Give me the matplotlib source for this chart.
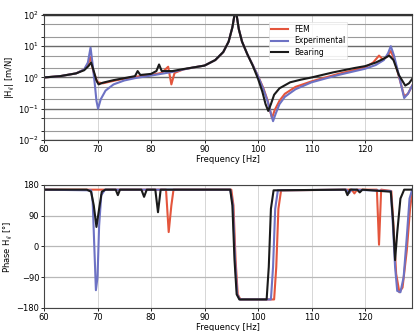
import matplotlib
matplotlib.use("Agg")
import matplotlib.pyplot as plt
from matplotlib.ticker import LogLocator, NullFormatter, FixedLocator

# ---- magnitude data ------------------------------------------------------
freq_mag_black = [60, 63, 66, 67.5, 68.3, 68.8, 69.3, 69.8, 70.2, 71, 73, 75, 77,
                  77.5, 78, 80, 81, 81.5, 82, 84, 86, 88, 90, 92, 93.5, 94.5, 95.2,
                  95.8, 96.4, 97, 98, 99, 100, 100.8, 101.4, 101.9, 102.4, 103, 104,
                  106, 108, 110, 114, 118, 120, 122, 123.5, 124.5, 125.3, 126.3,
                  127.5, 128.2, 128.8]
mag_black = [1.0, 1.1, 1.35, 1.7, 2.3, 3.0, 1.6, 0.8, 0.6, 0.68, 0.82, 0.95, 1.1,
             1.6, 1.2, 1.3, 1.6, 2.6, 1.6, 1.6, 1.85, 2.1, 2.4, 3.6, 6.5, 14, 40,
             160, 35, 14, 5.5, 2.4, 0.9, 0.35, 0.14, 0.085, 0.14, 0.28, 0.45,
             0.7, 0.85, 1.0, 1.45, 2.0, 2.3, 3.0, 4.0, 5.0, 3.6, 1.2, 0.55, 0.65,
             0.9]

freq_mag_blue = [60, 63, 66, 67.5, 68.2, 68.7, 69.1, 69.5, 69.8, 70.1, 70.6, 71.5,
                 73, 75, 77, 80, 84, 86, 88, 90, 92, 93.5, 94.5, 95.2, 95.8, 96.4,
                 97, 98, 99, 100, 101, 101.8, 102.4, 102.8, 103.3, 104, 105, 107,
                 110, 115, 120, 122, 123.5, 124.3, 124.8, 125.4, 126.3, 127.3, 128,
                 128.8]
mag_blue = [1.0, 1.1, 1.35, 1.8, 3.0, 9.0, 2.5, 0.6, 0.18, 0.1, 0.2, 0.38,
            0.6, 0.8, 0.95, 1.15, 1.5, 1.8, 2.1, 2.4, 3.6, 6.5, 14, 40, 160, 35,
            14, 5.5, 2.5, 1.1, 0.42, 0.17, 0.07, 0.04, 0.07, 0.14, 0.24, 0.42,
            0.7, 1.2, 1.9, 2.5, 3.6, 6.0, 10.0, 5.0, 1.2, 0.22, 0.3, 0.55]

freq_mag_red = [60, 63, 66, 67.5, 68.2, 68.7, 69.2, 70, 71, 73, 75, 77, 80, 82,
                83.2, 83.8, 84.4, 86, 88, 90, 92, 93.5, 94.5, 95.2, 95.8, 96.4, 97,
                98, 99, 100, 101, 101.8, 102.3, 102.6, 103.1, 104, 105, 107, 110,
                115, 120, 121.5, 122.6, 123.3, 124, 124.8, 125.4, 126.3, 127.3,
                128, 128.8]
mag_red = [1.0, 1.1, 1.35, 1.8, 2.6, 4.5, 1.6, 0.7, 0.65, 0.78, 0.92, 1.05,
           1.2, 1.4, 2.2, 0.6, 1.4, 1.8, 2.1, 2.4, 3.6, 6.5, 14, 40, 160, 35, 14,
           5.5, 2.5, 1.1, 0.45, 0.18, 0.08, 0.05, 0.09, 0.18, 0.3, 0.5, 0.75,
           1.3, 2.1, 3.0, 5.0, 3.8, 4.5, 7.0, 4.0, 1.1, 0.25, 0.3, 0.55]

# ---- phase data ----------------------------------------------------------
freq_ph_black = [60, 68, 68.8, 69.3, 69.8, 70.3, 70.8, 71.5, 73.4, 73.8, 74.2,
                 78.2, 78.7, 79.2, 80.8, 81.3, 81.8, 94.8, 95.2, 95.6, 96.0, 96.5,
                 101.6, 102.0, 102.4, 102.9, 116.3, 116.7, 117.2, 118.5, 119,
                 119.5, 124.8, 125.2, 125.6, 126.0, 126.6, 127.3, 128.8]
ph_black = [166, 166, 160, 120, 57, 110, 160, 166, 166, 150, 166,
            166, 145, 166, 166, 100, 166, 166, 120, -40, -140, -155,
            -155, -60, 110, 164, 166, 150, 166, 166, 158, 166, 160, 80,
            -40, 40, 140, 166, 166]

freq_ph_blue = [60, 68.8, 69.1, 69.4, 69.7, 70.0, 70.3, 70.7, 71.4, 94.8, 95.3,
                95.7, 96.1, 96.6, 102.4, 102.8, 103.2, 103.7, 116.5, 117, 117.5,
                124.8, 125.2, 125.6, 126.0, 126.6, 127.2, 127.8, 128.3, 128.8]
ph_blue = [166, 164, 130, 0, -128, -90, 60, 150, 166, 166, 120, -40, -140,
           -155, -155, -60, 110, 164, 166, 156, 166, 162, 60, -60, -130, -134,
           -90, 30, 140, 166]

freq_ph_red = [60, 82.8, 83.3, 83.8, 84.2, 95.0, 95.4, 95.8, 96.2, 96.7, 103.0,
               103.4, 103.8, 104.3, 117.5, 118, 118.5, 122.2, 122.6, 123.0,
               124.9, 125.3, 125.8, 126.4, 127.0, 127.8, 128.4, 128.8]
ph_red = [166, 166, 42, 120, 166, 166, 120, -40, -140, -155, -155, -60, 110,
          164, 166, 155, 166, 166, 5, 166, 162, 60, -80, -134, -120, -10, 110,
          160]

series_labels = ["FEM", "Experimental", "Bearing"]
mag_ticks = [1e-2, 1e-1, 1e0, 1e1, 1e2]
phase_ticks = [-180, -90, 0, 90, 180]
freq_ticks = [60, 70, 80, 90, 100, 110, 120]

RED = "#e4553c"
BLUE = "#6d72c4"
BLACK = "#1a1a1a"

plt.rcParams["font.family"] = "DejaVu Sans"
fig = plt.figure(figsize=(4.17, 3.31), dpi=100)

ax1 = fig.add_axes([0.1055, 0.577, 0.883, 0.378])
ax2 = fig.add_axes([0.1055, 0.0695, 0.883, 0.372])

lw = 1.5
ax1.semilogy(freq_mag_red, mag_red, color=RED, lw=lw, label=series_labels[0])
ax1.semilogy(freq_mag_blue, mag_blue, color=BLUE, lw=lw, label=series_labels[1])
ax1.semilogy(freq_mag_black, mag_black, color=BLACK, lw=lw, label=series_labels[2])

ax2.plot(freq_ph_red, ph_red, color=RED, lw=lw)
ax2.plot(freq_ph_blue, ph_blue, color=BLUE, lw=lw)
ax2.plot(freq_ph_black, ph_black, color=BLACK, lw=lw)

for ax in (ax1, ax2):
    ax.set_xlim(60, 128.8)
    ax.set_xticks(freq_ticks)
    ax.tick_params(labelsize=6, length=2, width=0.6, pad=1.5)
    ax.set_xlabel("Frequency [Hz]", fontsize=6, labelpad=1)
    ax.xaxis.grid(True, color="#d0d0d0", lw=0.6)
    for s in ax.spines.values():
        s.set_color("#444444")
        s.set_linewidth(0.8)
    ax.set_axisbelow(True)

ax1.spines["top"].set_color("#333333")
ax1.spines["top"].set_linewidth(1.6)

ax1.set_ylim(1e-2, 1e2)
ax1.yaxis.set_major_locator(FixedLocator(mag_ticks))
ax1.yaxis.set_minor_locator(LogLocator(base=10, subs=(2, 5)))
ax1.yaxis.set_minor_formatter(NullFormatter())
ax1.yaxis.grid(True, which="major", color="#6a6a6a", lw=1.0)
ax1.yaxis.grid(True, which="minor", color="#9a9a9a", lw=0.8)
ax1.set_ylabel("|H$_{ij}$| [m/N]", fontsize=6, labelpad=1)

ax2.set_ylim(-180, 180)
ax2.set_yticks(phase_ticks)
ax2.yaxis.grid(True, color="#b8b8b8", lw=0.9)
ax2.set_ylabel("Phase H$_{ij}$ [°]", fontsize=6, labelpad=1)

leg = ax1.legend(loc="upper left", bbox_to_anchor=(0.6, 0.97), fontsize=5.5,
                 frameon=True, handlelength=2.2, borderpad=0.3,
                 labelspacing=0.35, fancybox=False, framealpha=0.85)
leg.get_frame().set_edgecolor("#dddddd")
leg.get_frame().set_linewidth(0.5)

fig.savefig("out.png", dpi=100)
